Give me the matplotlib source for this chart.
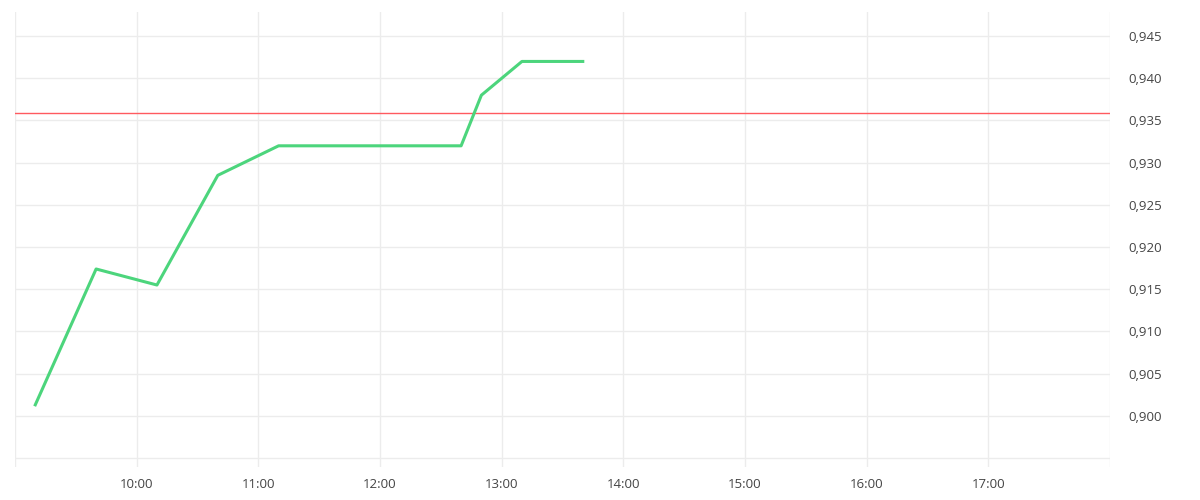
import datetime as dt
import matplotlib.pyplot as plt
import matplotlib.dates as mdates
from matplotlib.ticker import FuncFormatter

# Intraday quotes
times = ["09:10", "09:40", "10:10", "10:40", "11:10", "11:40", "12:10",
         "12:40", "12:50", "13:10", "13:40"]
values = [0.9013, 0.9174, 0.9155, 0.9285, 0.9320, 0.9320, 0.9320,
          0.9320, 0.9380, 0.9420, 0.9420]
reference_level = 0.9359
y_ticks = [0.895, 0.900, 0.905, 0.910, 0.915, 0.920, 0.925, 0.930,
           0.935, 0.940, 0.945]

plt.rcParams["font.family"] = ["Open Sans", "DejaVu Sans"]

day = dt.date(2024, 1, 2)
x = [dt.datetime.combine(day, dt.time.fromisoformat(t)) for t in times]
start = dt.datetime.combine(day, dt.time(9, 0))
end = dt.datetime.combine(day, dt.time(18, 0))

fig = plt.figure(figsize=(12, 5), dpi=100)
ax = fig.add_axes([0.0125, 0.066, 0.9125, 0.91])

ax.plot(x, values, color="#4cd57c", linewidth=2.2, zorder=3)
ax.axhline(reference_level, color="#ff5a5f", linewidth=1, zorder=2)

ax.set_xlim(start, end)
ax.set_ylim(0.89393, 0.94786)

ax.xaxis.set_major_locator(mdates.HourLocator())
ax.xaxis.set_major_formatter(FuncFormatter(
    lambda v, p: "" if mdates.num2date(v).hour in (9, 18) else mdates.num2date(v).strftime("%H:%M")))
ax.set_yticks(y_ticks)
ax.yaxis.set_major_formatter(FuncFormatter(
    lambda v, p: "" if v < 0.8975 else f"{v:.3f}".replace(".", ",")))
ax.yaxis.tick_right()

ax.tick_params(axis="both", length=0, labelsize=9.5, colors="#444444")
ax.tick_params(axis="y", pad=13)
ax.tick_params(axis="x", pad=8)
ax.grid(True, color="#ececec", linewidth=1)
for s in ax.spines.values():
    s.set_visible(False)

fig.savefig("out.png", dpi=100)
